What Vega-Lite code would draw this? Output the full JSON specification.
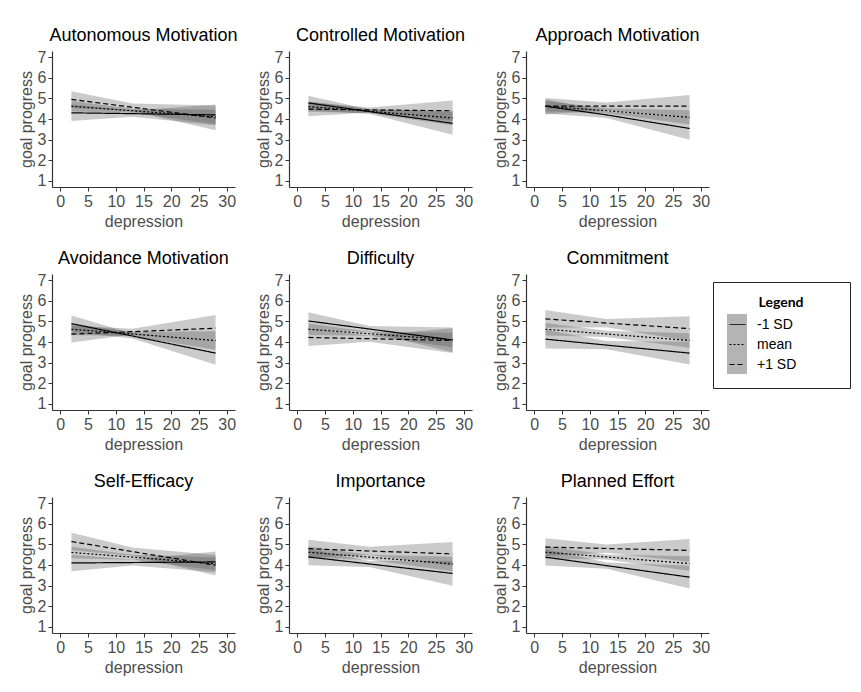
{
  "$schema": "https://vega.github.io/schema/vega-lite/v6.json",
  "padding": {"left": 18, "top": 27, "right": 5, "bottom": 5},
  "background": "white",
  "data": {"values": [
    {"panel":"Autonomous Motivation","level":"-1 SD","depression":2,"progress":4.30,"lower":3.90,"upper":4.70},
    {"panel":"Autonomous Motivation","level":"-1 SD","depression":13,"progress":4.26,"lower":4.11,"upper":4.41},
    {"panel":"Autonomous Motivation","level":"-1 SD","depression":28,"progress":4.20,"lower":3.70,"upper":4.70},
    {"panel":"Autonomous Motivation","level":"mean","depression":2,"progress":4.62,"lower":4.37,"upper":4.87},
    {"panel":"Autonomous Motivation","level":"mean","depression":13,"progress":4.40,"lower":4.30,"upper":4.50},
    {"panel":"Autonomous Motivation","level":"mean","depression":28,"progress":4.10,"lower":3.75,"upper":4.45},
    {"panel":"Autonomous Motivation","level":"+1 SD","depression":2,"progress":4.95,"lower":4.55,"upper":5.35},
    {"panel":"Autonomous Motivation","level":"+1 SD","depression":13,"progress":4.57,"lower":4.39,"upper":4.75},
    {"panel":"Autonomous Motivation","level":"+1 SD","depression":28,"progress":4.05,"lower":3.45,"upper":4.65},

    {"panel":"Controlled Motivation","level":"-1 SD","depression":2,"progress":4.78,"lower":4.43,"upper":5.13},
    {"panel":"Controlled Motivation","level":"-1 SD","depression":13,"progress":4.36,"lower":4.26,"upper":4.46},
    {"panel":"Controlled Motivation","level":"-1 SD","depression":28,"progress":3.79,"lower":3.24,"upper":4.34},
    {"panel":"Controlled Motivation","level":"mean","depression":2,"progress":4.60,"lower":4.35,"upper":4.85},
    {"panel":"Controlled Motivation","level":"mean","depression":13,"progress":4.38,"lower":4.28,"upper":4.48},
    {"panel":"Controlled Motivation","level":"mean","depression":28,"progress":4.05,"lower":3.70,"upper":4.40},
    {"panel":"Controlled Motivation","level":"+1 SD","depression":2,"progress":4.48,"lower":4.13,"upper":4.83},
    {"panel":"Controlled Motivation","level":"+1 SD","depression":13,"progress":4.44,"lower":4.32,"upper":4.56},
    {"panel":"Controlled Motivation","level":"+1 SD","depression":28,"progress":4.40,"lower":3.90,"upper":4.90},

    {"panel":"Approach Motivation","level":"-1 SD","depression":2,"progress":4.62,"lower":4.27,"upper":4.97},
    {"panel":"Approach Motivation","level":"-1 SD","depression":13,"progress":4.20,"lower":4.05,"upper":4.35},
    {"panel":"Approach Motivation","level":"-1 SD","depression":28,"progress":3.54,"lower":2.99,"upper":4.09},
    {"panel":"Approach Motivation","level":"mean","depression":2,"progress":4.62,"lower":4.37,"upper":4.87},
    {"panel":"Approach Motivation","level":"mean","depression":13,"progress":4.40,"lower":4.28,"upper":4.52},
    {"panel":"Approach Motivation","level":"mean","depression":28,"progress":4.08,"lower":3.73,"upper":4.43},
    {"panel":"Approach Motivation","level":"+1 SD","depression":2,"progress":4.62,"lower":4.22,"upper":5.02},
    {"panel":"Approach Motivation","level":"+1 SD","depression":13,"progress":4.62,"lower":4.44,"upper":4.80},
    {"panel":"Approach Motivation","level":"+1 SD","depression":28,"progress":4.62,"lower":4.07,"upper":5.17},

    {"panel":"Avoidance Motivation","level":"-1 SD","depression":2,"progress":4.89,"lower":4.49,"upper":5.29},
    {"panel":"Avoidance Motivation","level":"-1 SD","depression":13,"progress":4.29,"lower":4.17,"upper":4.41},
    {"panel":"Avoidance Motivation","level":"-1 SD","depression":28,"progress":3.46,"lower":2.90,"upper":4.02},
    {"panel":"Avoidance Motivation","level":"mean","depression":2,"progress":4.62,"lower":4.34,"upper":4.90},
    {"panel":"Avoidance Motivation","level":"mean","depression":13,"progress":4.39,"lower":4.29,"upper":4.49},
    {"panel":"Avoidance Motivation","level":"mean","depression":28,"progress":4.07,"lower":3.62,"upper":4.52},
    {"panel":"Avoidance Motivation","level":"+1 SD","depression":2,"progress":4.38,"lower":3.97,"upper":4.79},
    {"panel":"Avoidance Motivation","level":"+1 SD","depression":13,"progress":4.50,"lower":4.36,"upper":4.64},
    {"panel":"Avoidance Motivation","level":"+1 SD","depression":28,"progress":4.67,"lower":4.03,"upper":5.31},

    {"panel":"Difficulty","level":"-1 SD","depression":2,"progress":5.02,"lower":4.60,"upper":5.44},
    {"panel":"Difficulty","level":"-1 SD","depression":13,"progress":4.63,"lower":4.48,"upper":4.78},
    {"panel":"Difficulty","level":"-1 SD","depression":28,"progress":4.10,"lower":3.50,"upper":4.70},
    {"panel":"Difficulty","level":"mean","depression":2,"progress":4.62,"lower":4.34,"upper":4.90},
    {"panel":"Difficulty","level":"mean","depression":13,"progress":4.40,"lower":4.30,"upper":4.50},
    {"panel":"Difficulty","level":"mean","depression":28,"progress":4.10,"lower":3.75,"upper":4.45},
    {"panel":"Difficulty","level":"+1 SD","depression":2,"progress":4.22,"lower":3.80,"upper":4.64},
    {"panel":"Difficulty","level":"+1 SD","depression":13,"progress":4.16,"lower":4.01,"upper":4.31},
    {"panel":"Difficulty","level":"+1 SD","depression":28,"progress":4.07,"lower":3.47,"upper":4.67},

    {"panel":"Commitment","level":"-1 SD","depression":2,"progress":4.14,"lower":3.69,"upper":4.59},
    {"panel":"Commitment","level":"-1 SD","depression":13,"progress":3.85,"lower":3.65,"upper":4.05},
    {"panel":"Commitment","level":"-1 SD","depression":28,"progress":3.46,"lower":2.91,"upper":4.01},
    {"panel":"Commitment","level":"mean","depression":2,"progress":4.62,"lower":4.32,"upper":4.92},
    {"panel":"Commitment","level":"mean","depression":13,"progress":4.39,"lower":4.24,"upper":4.54},
    {"panel":"Commitment","level":"mean","depression":28,"progress":4.07,"lower":3.72,"upper":4.42},
    {"panel":"Commitment","level":"+1 SD","depression":2,"progress":5.12,"lower":4.69,"upper":5.55},
    {"panel":"Commitment","level":"+1 SD","depression":13,"progress":4.92,"lower":4.72,"upper":5.12},
    {"panel":"Commitment","level":"+1 SD","depression":28,"progress":4.65,"lower":4.05,"upper":5.25},

    {"panel":"Self-Efficacy","level":"-1 SD","depression":2,"progress":4.10,"lower":3.70,"upper":4.50},
    {"panel":"Self-Efficacy","level":"-1 SD","depression":13,"progress":4.12,"lower":3.97,"upper":4.27},
    {"panel":"Self-Efficacy","level":"-1 SD","depression":28,"progress":4.15,"lower":3.65,"upper":4.65},
    {"panel":"Self-Efficacy","level":"mean","depression":2,"progress":4.61,"lower":4.33,"upper":4.89},
    {"panel":"Self-Efficacy","level":"mean","depression":13,"progress":4.38,"lower":4.26,"upper":4.50},
    {"panel":"Self-Efficacy","level":"mean","depression":28,"progress":4.06,"lower":3.74,"upper":4.38},
    {"panel":"Self-Efficacy","level":"+1 SD","depression":2,"progress":5.14,"lower":4.71,"upper":5.57},
    {"panel":"Self-Efficacy","level":"+1 SD","depression":13,"progress":4.65,"lower":4.45,"upper":4.85},
    {"panel":"Self-Efficacy","level":"+1 SD","depression":28,"progress":3.99,"lower":3.49,"upper":4.49},

    {"panel":"Importance","level":"-1 SD","depression":2,"progress":4.39,"lower":3.99,"upper":4.79},
    {"panel":"Importance","level":"-1 SD","depression":13,"progress":4.05,"lower":3.90,"upper":4.20},
    {"panel":"Importance","level":"-1 SD","depression":28,"progress":3.59,"lower":2.99,"upper":4.19},
    {"panel":"Importance","level":"mean","depression":2,"progress":4.62,"lower":4.34,"upper":4.90},
    {"panel":"Importance","level":"mean","depression":13,"progress":4.38,"lower":4.26,"upper":4.50},
    {"panel":"Importance","level":"mean","depression":28,"progress":4.05,"lower":3.70,"upper":4.40},
    {"panel":"Importance","level":"+1 SD","depression":2,"progress":4.79,"lower":4.36,"upper":5.22},
    {"panel":"Importance","level":"+1 SD","depression":13,"progress":4.68,"lower":4.48,"upper":4.88},
    {"panel":"Importance","level":"+1 SD","depression":28,"progress":4.54,"lower":3.96,"upper":5.12},

    {"panel":"Planned Effort","level":"-1 SD","depression":2,"progress":4.38,"lower":3.98,"upper":4.78},
    {"panel":"Planned Effort","level":"-1 SD","depression":13,"progress":3.97,"lower":3.82,"upper":4.12},
    {"panel":"Planned Effort","level":"-1 SD","depression":28,"progress":3.41,"lower":2.86,"upper":3.96},
    {"panel":"Planned Effort","level":"mean","depression":2,"progress":4.62,"lower":4.32,"upper":4.92},
    {"panel":"Planned Effort","level":"mean","depression":13,"progress":4.39,"lower":4.27,"upper":4.51},
    {"panel":"Planned Effort","level":"mean","depression":28,"progress":4.07,"lower":3.72,"upper":4.42},
    {"panel":"Planned Effort","level":"+1 SD","depression":2,"progress":4.87,"lower":4.44,"upper":5.30},
    {"panel":"Planned Effort","level":"+1 SD","depression":13,"progress":4.80,"lower":4.60,"upper":5.00},
    {"panel":"Planned Effort","level":"+1 SD","depression":28,"progress":4.71,"lower":4.16,"upper":5.26}
  ]},
  "facet": {
    "field": "panel",
    "type": "nominal",
    "sort": ["Autonomous Motivation","Controlled Motivation","Approach Motivation","Avoidance Motivation","Difficulty","Commitment","Self-Efficacy","Importance","Planned Effort"],
    "header": {"title": null, "labelFontSize": 18, "labelColor": "black", "labelFont": "Liberation Sans", "labelPadding": 4}
  },
  "columns": 3,
  "spacing": {"row": 21, "column": 17},
  "spec": {
    "width": 183,
    "height": 136,
    "layer": [
      {
        "mark": {"type": "area", "opacity": 0.28},
        "encoding": {
          "x": {"field": "depression", "type": "quantitative", "scale": {"domain": [-1.5, 31.5], "nice": false, "zero": false}, "axis": {"values": [0,5,10,15,20,25,30], "title": "depression"}},
          "y": {"field": "lower", "type": "quantitative", "scale": {"domain": [0.7, 7.3], "nice": false, "zero": false}, "axis": {"values": [1,2,3,4,5,6,7], "title": "goal progress"}},
          "y2": {"field": "upper"},
          "fill": {
            "field": "level", "type": "nominal",
            "scale": {"range": ["#444444", "#444444", "#444444"]},
            "legend": {
              "title": "\u00a0", "orient": "none", "legendX": 661, "legendY": 231,
              "padding": 14,
              "titleFont": "Lato", "titleFontSize": 14, "titleFontWeight": "bold", "titleColor": "transparent", "titleAnchor": "middle", "titlePadding": 4,
              "labelFont": "Liberation Sans", "labelFontSize": 14, "labelOpacity": 0, "labelOffset": 9,
              "symbolType": "square", "symbolSize": 400, "symbolOpacity": 0.4, "symbolStrokeWidth": 0,
              "rowPadding": 0,
              "labelExpr": "'\u00a0'"
            }
          }
        }
      },
      {
        "mark": {"type": "line", "color": "black", "strokeWidth": 1.2},
        "encoding": {
          "x": {"field": "depression", "type": "quantitative", "axis": {"values": [0,5,10,15,20,25,30], "title": "depression"}},
          "y": {"field": "progress", "type": "quantitative", "axis": {"values": [1,2,3,4,5,6,7], "title": "goal progress"}},
          "strokeDash": {
            "field": "level", "type": "nominal",
            "scale": {"domain": ["-1 SD", "mean", "+1 SD"], "range": [[1, 0], [2, 2], [5, 3]]},
            "legend": {
              "title": "Legend", "orient": "none", "legendX": 661, "legendY": 231,
              "strokeColor": "#222222", "padding": 14,
              "titleFont": "Lato", "titleFontSize": 14, "titleFontWeight": "bold", "titleColor": "black", "titleAnchor": "middle", "titlePadding": 4,
              "labelFont": "Liberation Sans", "labelFontSize": 14, "labelColor": "black", "labelOffset": 9,
              "symbolType": "M-0.8,0H0.8M9.6,0M0,-0.75M0,0.75", "symbolSize": 400, "symbolStrokeColor": "black", "symbolStrokeWidth": 1, "symbolFillColor": "transparent",
              "rowPadding": 0
            }
          }
        }
      }
    ]
  },
  "resolve": {"axis": {"x": "independent", "y": "independent"}},
  "config": {
    "font": "Liberation Sans",
    "view": {"stroke": null},
    "axis": {
      "grid": false, "domainColor": "#333333", "domainWidth": 1.2, "tickColor": "#333333", "tickSize": 4, "tickWidth": 1,
      "labelColor": "#4d4d4d", "labelFontSize": 16, "labelFont": "Liberation Sans", "labelPadding": 2,
      "titleColor": "#4d4d4d", "titleFontSize": 16, "titleFont": "Liberation Sans", "titleFontWeight": "normal", "titlePadding": 4
    },
    "axisY": {"titlePadding": 3}
  }
}
